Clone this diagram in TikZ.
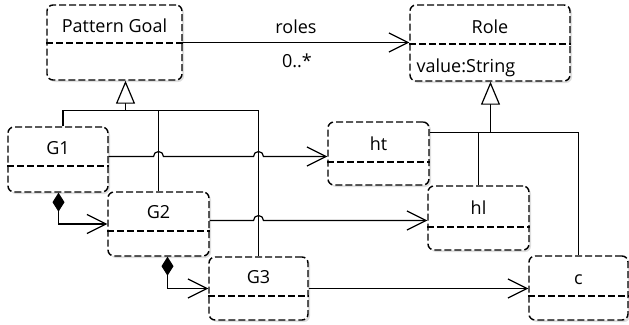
\documentclass[tikz,border=0pt]{standalone}
\usepackage{fontspec}
\setmainfont{Open Sans}
\usetikzlibrary{arrows.meta,shadows}
\begin{document}
\begin{tikzpicture}[x=1pt,y=-1pt,line width=1.2pt,
  box/.style={draw,line width=1.4pt,dash pattern=on 7pt off 3pt,rounded corners=6pt,fill=white,inner sep=0pt,
    drop shadow={opacity=0.25,shadow xshift=2pt,shadow yshift=-2pt}},
  divider/.style={line width=1.4pt,dash pattern=on 7pt off 3pt},
  lbl/.style={font=\fontsize{18}{21}\selectfont,inner sep=0pt,anchor=base},
  assoc/.style={-{Straight Barb[length=19pt,width=19pt]}},
  inh/.style={-{Triangle[length=23pt,width=19pt,fill=white]}},
  comp/.style={{Diamond[length=19pt,width=12pt]}-{Straight Barb[length=19pt,width=19pt]}}]
\useasboundingbox (0,0) rectangle (629,324);

% boxes
\node[box,minimum width=135pt,minimum height=75pt] (pg) at (114.5,42.5) {};
\node[box,minimum width=160pt,minimum height=76pt] (role) at (490,43) {};
\node[box,minimum width=100pt,minimum height=65pt] (g1) at (58,159.5) {};
\node[box,minimum width=101pt,minimum height=64pt] (g2) at (158.5,224) {};
\node[box,minimum width=99pt,minimum height=63pt] (g3) at (258.5,288.5) {};
\node[box,minimum width=101pt,minimum height=63pt] (ht) at (378.5,153.5) {};
\node[box,minimum width=101pt,minimum height=64pt] (hl) at (478.5,218) {};
\node[box,minimum width=99pt,minimum height=64pt] (c) at (578.5,288) {};

% dividers
\draw[divider] ([yshift=-0.5pt]pg.west) -- ([yshift=-0.5pt]pg.east);
\draw[divider] ([yshift=-1pt]role.west) -- ([yshift=-1pt]role.east);
\draw[divider] ([yshift=-6.5pt]g1.west) -- ([yshift=-6.5pt]g1.east);
\draw[divider] ([yshift=-7pt]g2.west) -- ([yshift=-7pt]g2.east);
\draw[divider] ([yshift=-7.5pt]g3.west) -- ([yshift=-7.5pt]g3.east);
\draw[divider] ([yshift=-8.5pt]ht.west) -- ([yshift=-8.5pt]ht.east);
\draw[divider] ([yshift=-9pt]hl.west) -- ([yshift=-9pt]hl.east);
\draw[divider] ([yshift=-8pt]c.west) -- ([yshift=-8pt]c.east);

% texts
\node[lbl] (pgt) at (114.5,32) {Pattern Goal};
\node[lbl] (rolet) at (490,33) {Role};
\node[lbl,anchor=base west] (rolev) at (416,72) {value:String};
\node[lbl] (g1t) at (58,154) {G1};
\node[lbl] (g2t) at (158.5,218) {G2};
\node[lbl] (g3t) at (258.5,283) {G3};
\node[lbl] (htt) at (378.5,150) {ht};
\node[lbl] (hlt) at (478.5,214) {hl};
\node[lbl] (ct) at (578.5,284) {c};
\node[lbl] (rolesl) at (296,33) {roles};
\node[lbl] (multl) at (297,67) {0..*};

% association roles
\draw[assoc] (pg.east) -- (role.west |- pg.east);

% generalisation to Pattern Goal
\coordinate (pgb) at (125.5,110.5);
\draw ([xshift=5pt]g1.north) |- (g3.north |- pgb) -- (g3.north);
\draw (g2.north) -- (g2.north |- pgb);
\draw[inh] (pgb) -- (pgb |- pg.south);

% generalisation to Role
\coordinate (rb) at (490.5,132.5);
\draw (ht.east |- rb) -| (c.north);
\draw (hl.north) -- (hl.north |- rb);
\draw[inh] (rb) -- (rb |- role.south);

% associations with line jumps
\coordinate (j1) at (158.5,156.5);
\coordinate (j2) at (258.5,156.5);
\coordinate (j3) at (258.5,220.5);
\draw[assoc] (g1.east |- j1) -- ([xshift=-5pt]j1) arc[start angle=180,end angle=0,radius=5pt]
  -- ([xshift=-5pt]j2) arc[start angle=180,end angle=0,radius=5pt] -- (ht.west |- j1);
\draw[assoc] (g2.east |- j3) -- ([xshift=-5pt]j3) arc[start angle=180,end angle=0,radius=5pt]
  -- (hl.west |- j3);
\draw[assoc] (g3.east) -- (c.west |- g3.east);

% compositions
\draw[comp] ([xshift=0.5pt]g1.south) |- (g2.west);
\draw[comp] ([xshift=9pt]g2.south) |- (g3.west);
\end{tikzpicture}
\end{document}
